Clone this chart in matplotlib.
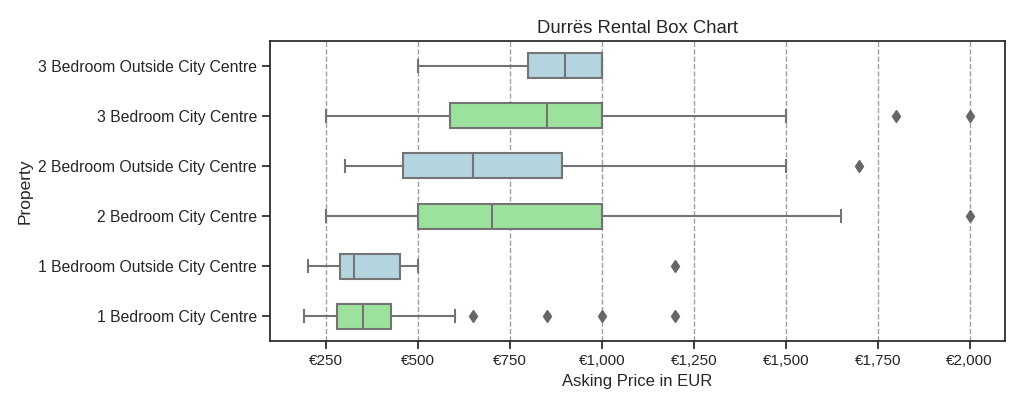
import matplotlib
matplotlib.use('Agg')
from matplotlib import pyplot as plt
from matplotlib.ticker import FuncFormatter
import colorsys
import matplotlib.colors as mcolors

plt.rcParams['font.family'] = ['Liberation Sans', 'DejaVu Sans']
plt.rcParams['text.color'] = '.15'
plt.rcParams['axes.labelcolor'] = '.15'
plt.rcParams['xtick.color'] = '.15'
plt.rcParams['ytick.color'] = '.15'

# box statistics per property type (bottom to top)
properties = ['1 Bedroom City Centre', '1 Bedroom Outside City Centre',
              '2 Bedroom City Centre', '2 Bedroom Outside City Centre',
              '3 Bedroom City Centre', '3 Bedroom Outside City Centre']
whisker_lo = [190, 200, 250, 300, 250, 500]
q1 = [280, 288, 500, 460, 588, 800]
median = [350, 325, 700, 650, 850, 900]
q3 = [425, 450, 1000, 890, 1000, 1000]
whisker_hi = [600, 500, 1650, 1500, 1500, 1000]
fliers = [[650, 850, 1000, 1200], [1200], [2000], [1700], [1800, 2000], []]
box_colors = ['lightgreen', 'lightblue', 'lightgreen', 'lightblue', 'lightgreen', 'lightblue']
xticks = [250, 500, 750, 1000, 1250, 1500, 1750, 2000]


def desaturate(c, prop=0.75):
    r, g, b = mcolors.to_rgb(c)
    h, l, s = colorsys.rgb_to_hls(r, g, b)
    return colorsys.hls_to_rgb(h, l, s * prop)


stats = []
for i in range(len(properties)):
    stats.append({'whislo': whisker_lo[i], 'q1': q1[i], 'med': median[i],
                  'q3': q3[i], 'whishi': whisker_hi[i], 'fliers': fliers[i]})

gray = '#747474'
fig = plt.figure(figsize=(10.24, 4.09), dpi=100)
ax = fig.add_axes([0.264, 0.166, 0.717, 0.734])

bp = ax.bxp(stats, positions=range(len(properties)), vert=False, widths=0.5,
            patch_artist=True,
            boxprops=dict(edgecolor=gray, linewidth=1.5),
            medianprops=dict(color=gray, linewidth=1.5),
            whiskerprops=dict(color=gray, linewidth=1.5),
            capprops=dict(color=gray, linewidth=1.5),
            flierprops=dict(marker='d', markerfacecolor='#666666', markeredgecolor='#666666',
                            markersize=6))
for patch, c in zip(bp['boxes'], box_colors):
    patch.set_facecolor(desaturate(c))
    patch.set_zorder(2)

ax.set_yticks(range(len(properties)))
ax.set_yticklabels(properties, fontsize=11.3)
ax.set_ylim(-0.5, len(properties) - 0.5)
ax.set_xlim(98, 2095)
ax.set_xticks(xticks)
ax.xaxis.set_major_formatter(FuncFormatter(lambda v, p: '\u20ac{:,.0f}'.format(v)))
ax.tick_params(axis='x', labelsize=11)
ax.grid(axis='x', linestyle='--', color='#a0a0a0', linewidth=1)
ax.set_axisbelow(True)
for s in ax.spines.values():
    s.set_color('.15')
    s.set_linewidth(1.25)
ax.tick_params(width=1.25, length=6)

ax.set_title('Durrës Rental Box Chart', fontsize=13.3)
ax.set_xlabel('Asking Price in EUR', fontsize=12)
ax.set_ylabel('Property', fontsize=12.5)

fig.savefig('out.png', dpi=100)
plt.close(fig)
